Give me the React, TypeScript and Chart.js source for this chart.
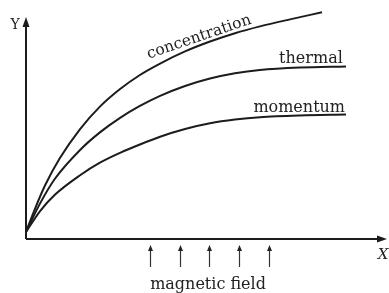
import { useEffect, useRef } from "react";
import { Chart, registerables } from "chart.js";

Chart.register(...registerables);

// Curve values (arbitrary units)
const xConcentration = [0, 0.28, 0.59, 1.06, 1.69, 2.31, 2.94, 3.56, 4.19, 4.97, 5.75, 6.53, 7.31, 8.25, 9.25];
const yConcentration = [0, 1.05, 2.1, 3.36, 4.68, 5.7, 6.5, 7.14, 7.66, 8.21, 8.66, 9.04, 9.35, 9.67, 9.99];
const xThermal = [0, 0.44, 0.91, 1.69, 2.31, 2.94, 3.56, 4.19, 4.97, 5.75, 6.53, 7.31, 8.56, 10];
const yThermal = [0, 1.3, 2.43, 3.73, 4.53, 5.19, 5.73, 6.19, 6.64, 6.98, 7.22, 7.37, 7.48, 7.53];
const xMomentum = [0, 0.44, 0.91, 1.69, 2.31, 2.94, 3.56, 4.19, 4.97, 5.75, 6.53, 7.31, 8.56, 10];
const yMomentum = [0, 0.95, 1.7, 2.58, 3.15, 3.6, 3.98, 4.33, 4.68, 4.94, 5.11, 5.22, 5.3, 5.34];

// Magnetic-field arrows along the x axis
const fieldArrowX = [3.88, 4.81, 5.72, 6.66, 7.59];

// Text
const curveNames = ["concentration", "thermal", "momentum"];
const xAxisLabel = "X";
const yAxisLabel = "Y";
const fieldLabel = "magnetic field";

const INK = "#1c1c1c";
const FONT = '"DejaVu Serif", "Liberation Serif", serif';

const zip = (xs: number[], ys: number[]) => xs.map((x, i) => ({ x, y: ys[i] }));

const decorPlugin = {
  id: "decor",
  afterDraw(chart: any) {
    const { ctx, chartArea, scales, width } = chart;
    const xs = scales.x;
    const ys = scales.y;
    const left = chartArea.left;
    const bottom = chartArea.bottom;
    ctx.save();

    // Axes
    ctx.strokeStyle = INK;
    ctx.fillStyle = INK;
    ctx.lineWidth = 2;
    ctx.beginPath();
    ctx.moveTo(left, bottom);
    ctx.lineTo(left, chartArea.top + 12);
    ctx.moveTo(left, bottom);
    ctx.lineTo(width - 8, bottom);
    ctx.stroke();
    // y arrow head
    const yTip = chartArea.top + 6;
    ctx.beginPath();
    ctx.moveTo(left, yTip);
    ctx.lineTo(left - 3.5, yTip + 10);
    ctx.lineTo(left + 3.5, yTip + 10);
    ctx.closePath();
    ctx.fill();
    // x arrow head
    const xTip = width - 2;
    ctx.beginPath();
    ctx.moveTo(xTip, bottom);
    ctx.lineTo(xTip - 10, bottom - 3.5);
    ctx.lineTo(xTip - 10, bottom + 3.5);
    ctx.closePath();
    ctx.fill();

    // Magnetic field arrows
    ctx.lineWidth = 1.2;
    ctx.strokeStyle = "#333";
    ctx.fillStyle = "#222";
    fieldArrowX.forEach((v) => {
      const px = Math.round(xs.getPixelForValue(v)) + 0.5;
      const tip = bottom + 6;
      ctx.beginPath();
      ctx.moveTo(px, bottom + 28);
      ctx.lineTo(px, tip + 5);
      ctx.stroke();
      ctx.beginPath();
      ctx.moveTo(px, tip);
      ctx.lineTo(px - 2.5, tip + 6);
      ctx.lineTo(px + 2.5, tip + 6);
      ctx.closePath();
      ctx.fill();
    });

    // Text
    ctx.fillStyle = "#222";
    ctx.font = `16px ${FONT}`;
    ctx.textAlign = "center";
    ctx.textBaseline = "alphabetic";
    const midArrow = xs.getPixelForValue(fieldArrowX[2]);
    ctx.fillText(fieldLabel, midArrow - 1, bottom + 50);

    // concentration (rotated along curve)
    ctx.save();
    ctx.translate(xs.getPixelForValue(5.41), ys.getPixelForValue(8.86));
    ctx.rotate(-0.33);
    ctx.textBaseline = "middle";
    ctx.font = `15.5px ${FONT}`;
    ctx.fillText(curveNames[0], 0, 0);
    ctx.restore();

    ctx.textAlign = "right";
    ctx.textBaseline = "alphabetic";
    ctx.fillText(curveNames[1], xs.getPixelForValue(9.9), ys.getPixelForValue(7.7));
    ctx.fillText(curveNames[2], xs.getPixelForValue(9.97), ys.getPixelForValue(5.47));

    // axis letters
    ctx.textAlign = "center";
    ctx.textBaseline = "middle";
    ctx.font = `14px ${FONT}`;
    ctx.fillText(yAxisLabel, left - 11, chartArea.top + 14);
    ctx.font = `italic 15px ${FONT}`;
    ctx.fillText(xAxisLabel, width - 6, bottom + 16);

    ctx.restore();
  },
};

export default function App() {
  const ref = useRef<HTMLCanvasElement | null>(null);

  useEffect(() => {
    if (!ref.current) return;
    const lineStyle = {
      borderColor: INK,
      borderWidth: 2,
      pointRadius: 0,
      fill: false,
      cubicInterpolationMode: "monotone" as const,
    };
    const chart = new Chart(ref.current, {
      type: "line",
      data: {
        datasets: [
          { label: curveNames[0], data: zip(xConcentration, yConcentration), ...lineStyle },
          { label: curveNames[1], data: zip(xThermal, yThermal), ...lineStyle },
          { label: curveNames[2], data: zip(xMomentum, yMomentum), ...lineStyle },
        ],
      },
      options: {
        animation: false,
        responsive: false,
        maintainAspectRatio: false,
        events: [],
        layout: { padding: { left: 26, right: 43, top: 11, bottom: 54 } },
        plugins: { legend: { display: false }, tooltip: { enabled: false } },
        scales: {
          x: { type: "linear", min: 0, max: 10, display: false },
          y: { type: "linear", min: -0.32, max: 10.05, display: false },
        },
      },
      plugins: [decorPlugin],
    });
    return () => chart.destroy();
  }, []);

  return (
    <div style={{ position: "absolute", left: 0, top: 0, width: 389, height: 293, background: "#fff" }}>
      <canvas ref={ref} width={389} height={293} style={{ width: 389, height: 293 }} />
    </div>
  );
}
